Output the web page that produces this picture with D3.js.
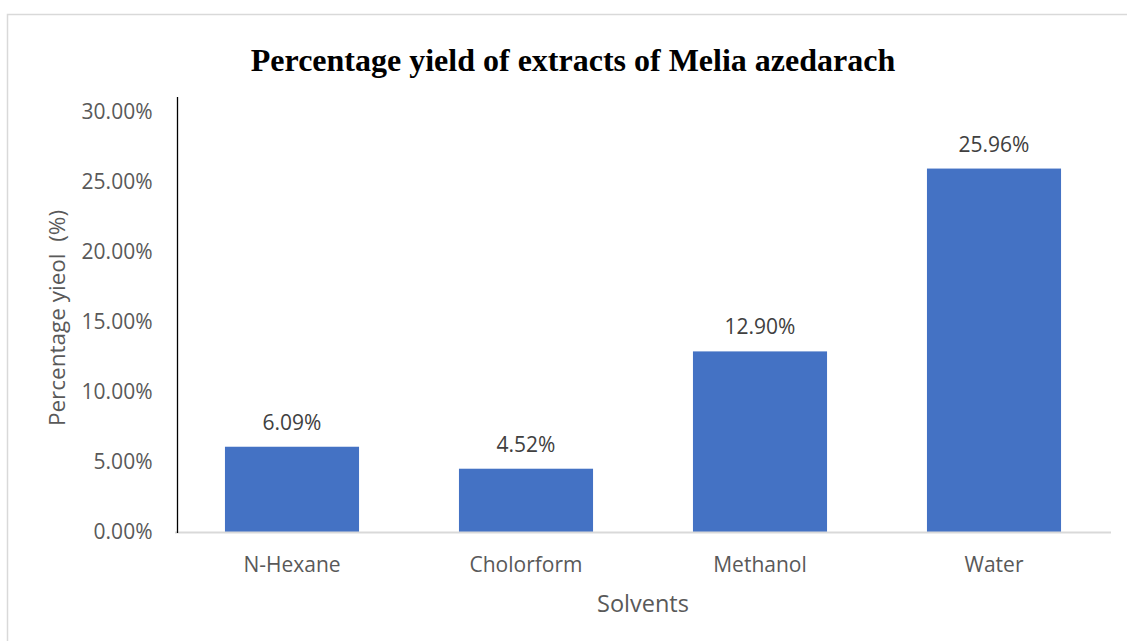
<!DOCTYPE html>
<html>
<head>
<meta charset="utf-8">
<script src="https://cdn.jsdelivr.net/npm/d3@7"></script>
<style>
  html, body { margin: 0; padding: 0; background: #fff; }
  svg { display: block; }
</style>
</head>
<body>
<svg id="chart" width="1127" height="641"></svg>
<script>
// Percentage yield of Melia azedarach extracts by solvent
const solvents = ["N-Hexane", "Cholorform", "Methanol", "Water"];
const yields = [6.09, 4.52, 12.90, 25.96];
const yTicks = [0, 5, 10, 15, 20, 25, 30];

const chartTitle = "Percentage yield of extracts of Melia azedarach";
const xTitle = "Solvents";
const yTitle = "Percentage yieol\u00a0 (%)";

const W = 1127, H = 641;
const plot = { left: 175, right: 1111, top: 97, bottom: 532 };

const svg = d3.select("#chart");
const sans = "'Open Sans', 'Noto Sans', sans-serif";
const labelSize = 21;

// Outer frame (only top and left edges fall inside the view)
svg.append("path")
  .attr("d", `M7.5,${H} V14.5 H${W}`)
  .attr("fill", "none")
  .attr("stroke", "#d9d9d9")
  .attr("stroke-width", 1.5);

const x = d3.scaleBand()
  .domain(solvents)
  .range([plot.left, plot.right])
  .padding(0);

const barWidth = x.bandwidth() * 0.573;

const y = d3.scaleLinear()
  .domain([0, 30])
  .range([plot.bottom, 112]);

// Bars
svg.append("g")
  .selectAll("rect")
  .data(solvents)
  .join("rect")
  .attr("x", (d) => x(d) + (x.bandwidth() - barWidth) / 2)
  .attr("width", barWidth)
  .attr("y", (d, i) => y(yields[i]))
  .attr("height", (d, i) => y(0) - y(yields[i]))
  .attr("fill", "#4472c4");

// Value labels above bars
svg.append("g")
  .selectAll("text")
  .data(solvents)
  .join("text")
  .attr("x", (d) => x(d) + x.bandwidth() / 2)
  .attr("y", (d, i) => y(yields[i]) - 17)
  .attr("text-anchor", "middle")
  .attr("font-family", sans)
  .attr("font-size", labelSize)
  .attr("fill", "#404040")
  .text((d, i) => yields[i].toFixed(2) + "%");

// X axis
const xAxis = svg.append("g")
  .attr("transform", `translate(0,${plot.bottom})`)
  .call(d3.axisBottom(x).tickSize(0).tickPadding(25));
xAxis.select(".domain")
  .attr("d", `M${plot.left},0.5H${plot.right}`)
  .attr("stroke", "#d9d9d9")
  .attr("stroke-width", 2);
xAxis.selectAll("text")
  .attr("font-family", sans)
  .attr("font-size", labelSize)
  .attr("fill", "#595959");

// Y axis
const yAxis = svg.append("g")
  .attr("transform", "translate(177.5,0)")
  .call(d3.axisLeft(y)
    .tickValues(yTicks)
    .tickSize(0)
    .tickPadding(25)
    .tickFormat((d) => d.toFixed(2) + "%"));
yAxis.select(".domain")
  .attr("d", `M0,${plot.top}V${plot.bottom + 1}`)
  .attr("stroke", "#000")
  .attr("stroke-width", 1.3);
yAxis.selectAll("text")
  .attr("font-family", sans)
  .attr("font-size", labelSize)
  .attr("fill", "#595959");

// Title
svg.append("text")
  .attr("x", 573)
  .attr("y", 71)
  .attr("text-anchor", "middle")
  .attr("font-family", "'Liberation Serif', 'Times New Roman', serif")
  .attr("font-weight", "bold")
  .attr("font-size", 32)
  .attr("fill", "#000")
  .text(chartTitle);

// X axis title, centred on the plot area
svg.append("text")
  .attr("x", (plot.left + plot.right) / 2)
  .attr("y", 612)
  .attr("text-anchor", "middle")
  .attr("font-family", sans)
  .attr("font-size", 23.5)
  .attr("fill", "#595959")
  .text(xTitle);

// Y axis title
svg.append("text")
  .attr("transform", "translate(65,318) rotate(-90)")
  .attr("text-anchor", "middle")
  .attr("font-family", sans)
  .attr("font-size", 22.5)
  .attr("fill", "#595959")
  .text(yTitle);
</script>
</body>
</html>
